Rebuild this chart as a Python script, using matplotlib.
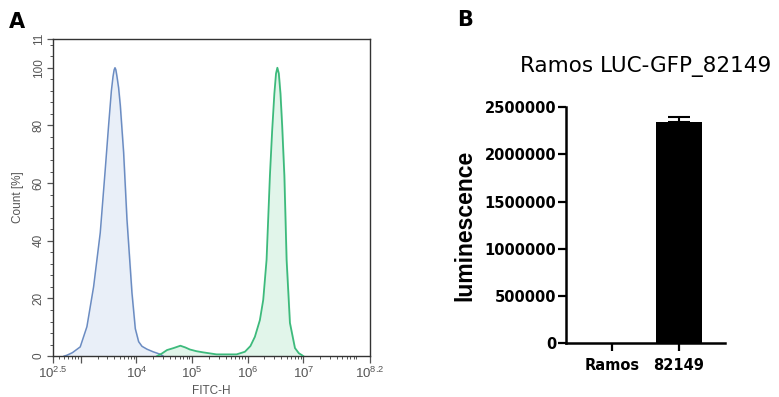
import numpy as np
import matplotlib
matplotlib.use("Agg")
import matplotlib.pyplot as plt
from matplotlib.ticker import FixedLocator, LogLocator, NullFormatter

plt.rcParams['font.family'] = ['Liberation Sans', 'DejaVu Sans']
plt.rcParams['mathtext.fontset'] = 'custom'
plt.rcParams['mathtext.rm'] = 'Liberation Sans'
plt.rcParams['mathtext.it'] = 'Liberation Sans'
plt.rcParams['mathtext.bf'] = 'Liberation Sans:bold'

# ───────── Panel A data (log10 FITC-H, Count %) ─────────────────────
blue_log_x = [2.70, 2.75, 2.85, 2.99, 3.11, 3.23, 3.35, 3.44, 3.50, 3.55, 3.58, 3.60, 3.615,
              3.63, 3.65, 3.68, 3.71, 3.77, 3.83, 3.92, 3.98, 4.04, 4.10, 4.19, 4.30, 4.42, 4.48]
blue_count = [0.0, 0.3, 1.2, 3.2, 10.2, 24.0, 42.8, 64.8, 80.0, 92.0, 97.0, 99.3, 100.0,
              99.3, 97.0, 93.0, 87.0, 70.6, 47.4, 21.9, 9.5, 5.0, 3.4, 2.4, 1.5, 0.7, 0.0]

green_log_x = [4.37, 4.45, 4.55, 4.67, 4.79, 4.88, 4.96, 5.08, 5.20, 5.44, 5.80,
               5.95, 6.05, 6.13, 6.22, 6.28, 6.34, 6.40, 6.44, 6.48, 6.51, 6.534,
               6.56, 6.59, 6.62, 6.66, 6.70, 6.76, 6.85, 6.92, 6.97, 7.00]
green_count = [0.0, 0.8, 2.1, 2.8, 3.6, 3.0, 2.3, 1.7, 1.3, 0.6, 0.6,
               1.5, 3.5, 6.7, 12.5, 19.5, 33.4, 62.5, 78.0, 91.0, 98.0, 100.0,
               98.0, 91.0, 80.0, 62.5, 33.4, 11.5, 2.8, 1.0, 0.4, 0.0]

a_xticks = [2.5, 3, 4, 5, 6, 7, 8.2]
a_xlabels = ['$10^{2.5}$', '', '$10^{4}$', '$10^{5}$', '$10^{6}$', '$10^{7}$', '$10^{8.2}$']
a_yticks = [0, 20, 40, 60, 80, 100, 110]
a_ylabels = ['0', '20', '40', '60', '80', '100', '11']

# ───────── Panel B data ──────────────────────────────────────────────
groups = ['Ramos', '82149']
luminescence = [0, 2340000]
lum_err = [0, 60000]
b_yticks = [0, 500000, 1000000, 1500000, 2000000, 2500000]

fig = plt.figure(figsize=(7.79, 3.97), dpi=100)

# ───────── Panel A ───────────────────────────────────────────────────
GRAY = '#555555'
axa = fig.add_axes([0.068, 0.103, 0.407, 0.799])
bx = 10 ** np.array(blue_log_x)
gx = 10 ** np.array(green_log_x)
axa.fill_between(bx, blue_count, color='#e9eff8', zorder=1)
axa.plot(bx, blue_count, color='#6b8cc2', lw=1.1, zorder=2)
axa.fill_between(gx, green_count, color='#e1f5ea', zorder=1)
axa.plot(gx, green_count, color='#3dba7c', lw=1.3, zorder=3)

axa.set_xscale('log')
axa.set_xlim(10 ** 2.5, 10 ** 8.2)
axa.set_ylim(0, 110)
axa.xaxis.set_major_locator(FixedLocator([10 ** v for v in a_xticks]))
axa.set_xticklabels(a_xlabels)
axa.xaxis.set_minor_locator(LogLocator(base=10, subs=np.arange(2, 10), numticks=20))
axa.xaxis.set_minor_formatter(NullFormatter())
axa.set_yticks(a_yticks)
axa.set_yticklabels(a_ylabels, rotation=90, va='center')
axa.yaxis.set_minor_locator(FixedLocator(np.arange(0, 111, 4)))
axa.tick_params(axis='x', which='major', labelsize=9.5, colors=GRAY, length=5, width=0.9, pad=2)
axa.tick_params(axis='x', which='minor', length=2.5, width=0.7, colors=GRAY)
axa.tick_params(axis='y', which='major', labelsize=8.5, colors=GRAY, length=4, width=0.9, pad=2)
axa.tick_params(axis='y', which='minor', length=2, width=0.7, colors=GRAY)
for s in axa.spines.values():
    s.set_color('#333333')
    s.set_linewidth(1.0)
axa.set_xlabel('FITC-H', fontsize=8.5, color=GRAY, labelpad=3)
axa.set_ylabel('Count [%]', fontsize=8.5, color=GRAY, labelpad=6)

# ───────── Panel B ───────────────────────────────────────────────────
WIDE = ['DejaVu Sans']
axb = fig.add_axes([0.7266, 0.136, 0.2041, 0.594])
xpos = np.arange(len(groups))
axb.bar(xpos, luminescence, width=0.69, color='black', zorder=2)
axb.errorbar(xpos[1:], luminescence[1:], yerr=[[0], lum_err[1:]], fmt='none',
             ecolor='black', elinewidth=1.5, capsize=8, capthick=1.5, zorder=3)
axb.set_xlim(-0.687, 1.687)
axb.set_ylim(0, 2500000)
axb.set_yticks(b_yticks)
axb.set_yticklabels([str(v) for v in b_yticks], fontweight='bold', family=WIDE)
axb.set_xticks(xpos)
axb.set_xticklabels(groups, fontweight='bold', family=WIDE)
axb.tick_params(axis='y', labelsize=10.5, length=6, width=1.6, pad=1)
axb.tick_params(axis='x', labelsize=10.5, length=6, width=1.6, pad=5)
axb.spines['top'].set_visible(False)
axb.spines['right'].set_visible(False)
axb.spines['left'].set_linewidth(1.8)
axb.spines['bottom'].set_linewidth(1.8)
axb.set_ylabel('luminescence', fontsize=16.5, fontweight='bold', labelpad=6)
axb.set_title('Ramos LUC-GFP_82149', fontsize=15.5, family=WIDE, pad=25)

fig.text(0.012, 0.945, 'A', fontsize=15, fontweight='bold', family=WIDE, va='center')
fig.text(0.587, 0.95, 'B', fontsize=15, fontweight='bold', family=WIDE, va='center')

fig.savefig('out.png', dpi=100)
